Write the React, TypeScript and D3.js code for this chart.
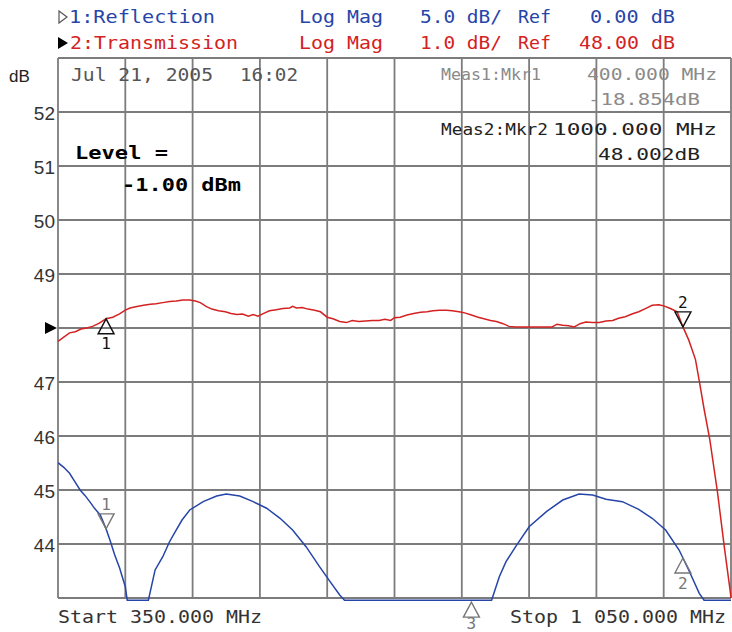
import React from 'react';
import * as d3 from 'd3';

// grid / ticks
const xGrid = [350, 420, 490, 560, 630, 700, 770, 840, 910, 980, 1050];
const yGrid = [43, 44, 45, 46, 47, 48, 49, 50, 51, 52, 53];
const yTickLabels = [52, 51, 50, 49, 47, 46, 45, 44];
const refLevel = 48;

// trace 2: Transmission (dB, 1 dB/div, ref 48)
const transFreq = [
  350, 356, 362, 368, 374, 380, 386, 393, 400, 407, 414, 420, 425, 432, 439, 446, 452, 459, 466, 473,
  480, 487, 493, 498, 504, 510, 517, 524, 530, 536, 542, 548, 553, 558, 564, 570, 577, 584, 591, 594,
  598, 604, 610, 617, 623, 630, 636, 643, 650, 656, 663, 670, 677, 684, 690, 696, 700, 706, 713, 720,
  727, 734, 740, 747, 754, 760, 767, 773, 780, 787, 793, 800, 806, 813, 819, 826, 840, 855, 864, 869,
  875, 881, 887, 893, 899, 906, 913, 920, 927, 933, 940, 947, 954, 961, 968, 975, 980, 987, 994, 1000,
  1006, 1013, 1017, 1022, 1028, 1036, 1043, 1049, 1050,
];
const transDb = [
  47.75, 47.83, 47.91, 47.93, 47.98, 48.0, 48.03, 48.09, 48.17, 48.2, 48.26, 48.33, 48.37, 48.4, 48.42, 48.44, 48.45, 48.47, 48.49, 48.5,
  48.52, 48.52, 48.5, 48.47, 48.4, 48.35, 48.32, 48.3, 48.27, 48.25, 48.26, 48.22, 48.25, 48.22, 48.27, 48.32, 48.34, 48.36, 48.37, 48.4,
  48.37, 48.38, 48.35, 48.33, 48.3, 48.2, 48.17, 48.12, 48.1, 48.14, 48.12, 48.13, 48.14, 48.14, 48.16, 48.14, 48.19, 48.2, 48.24, 48.27,
  48.29, 48.3, 48.32, 48.33, 48.33, 48.32, 48.3, 48.28, 48.24, 48.2, 48.17, 48.14, 48.12, 48.08, 48.03, 48.02, 48.02, 48.02, 48.02, 48.07,
  48.05, 48.04, 48.02, 48.08, 48.11, 48.1, 48.1, 48.13, 48.14, 48.18, 48.21, 48.26, 48.3, 48.36, 48.42, 48.43, 48.41, 48.36, 48.3, 48.02,
  47.78, 47.42, 47.02, 46.5, 45.93, 44.95, 43.95, 43.15, 43.0,
];

// trace 1: Reflection (dB, 5 dB/div, ref 0)
const reflFreq = [
  350, 356, 362, 368, 373, 378, 383, 388, 394, 400, 404, 409, 414, 420, 422, 444, 451, 459, 466, 472,
  479, 487, 501, 515, 525, 539, 553, 567, 581, 594, 608, 622, 633, 643, 648, 801, 809, 816, 826, 840,
  858, 875, 892, 906, 920, 937, 954, 968, 982, 996, 1006, 1017, 1022, 1050,
];
const reflDb = [
  -12.47, -12.9, -13.45, -14.3, -15.0, -15.5, -16.08, -16.7, -17.31, -18.6, -19.63, -21.02, -22.2, -23.95, -25.2, -25.2, -22.4, -21.18, -19.79, -18.86,
  -17.78, -16.85, -16.08, -15.56, -15.37, -15.56, -16.08, -16.69, -17.62, -18.7, -20.25, -22.1, -23.49, -24.72, -25.2, -25.2, -23.03, -21.64, -20.25, -18.4,
  -17.0, -15.93, -15.37, -15.46, -15.86, -16.08, -16.79, -17.62, -18.7, -20.56, -22.41, -24.57, -25.2, -25.2,
];

// markers: [label, frequency]
const transMarkers: [string, number][] = [['1', 400], ['2', 1000]];
const reflMarkers: [string, number][] = [['1', 400], ['2', 1000], ['3', 780]];

const W = 732;
const H = 632;
const L = 58, R = 731, T = 58, B = 598;
const MONO = '"DejaVu Sans Mono", monospace';
const SANS = '"Liberation Sans", Arial, sans-serif';
const BLUE = '#2645a8';
const RED = '#d42222';

const x = d3.scaleLinear().domain([350, 1050]).range([L, R]);
const yTrans = d3.scaleLinear().domain([43, 53]).range([B, T]);
const yRefl = d3.scaleLinear().domain([-25, 25]).range([B, T]);
const transAt = d3.scaleLinear().domain(transFreq).range(transDb);
const reflAt = d3.scaleLinear().domain(reflFreq).range(reflDb);

const transLine = d3.line<number>().x((_, i) => x(transFreq[i])).y(d => yTrans(d));
const reflLine = d3.line<number>().x((_, i) => x(reflFreq[i])).y(d => yRefl(d));

// text with a forced span
const Txt = ({ x0, x1, y, s, fill = '#222', size = 17, family = MONO, weight = 'normal' }: any) => (
  <text x={x0} y={y} fill={fill} fontSize={size} fontFamily={family} fontWeight={weight}
    dominantBaseline="central" textLength={x1 - x0} lengthAdjust="spacingAndGlyphs">{s}</text>
);

const Marker = ({ px, py, label, up, color, labelGap = 25 }: any) => {
  const w = 8, h = 15;
  const d = up
    ? `M${px},${py} L${px - w},${py + h} L${px + w},${py + h} Z`
    : `M${px},${py} L${px - w},${py - h} L${px + w},${py - h} Z`;
  return (
    <g>
      <path d={d} fill="none" stroke={color} strokeWidth={1.4} />
      <text x={px} y={up ? py + labelGap : py - 24} fill={color} fontSize={16} fontFamily={MONO}
        textAnchor="middle" dominantBaseline="central">{label}</text>
    </g>
  );
};

export default function App() {
  return (
    <svg width={W} height={H} style={{ position: 'absolute', left: 0, top: 0, background: '#fff' }}>
      <defs>
        <clipPath id="plot">
          <rect x={L} y={T - 1} width={R - L + 1} height={B - T + 4} />
        </clipPath>
      </defs>

      {/* header */}
      <path d="M59,11 L67,17 L59,23 Z" fill="none" stroke="#555" strokeWidth={1.2} />
      <Txt x0={69} x1={215} y={17} s="1:Reflection" fill={BLUE} />
      <Txt x0={299} x1={383} y={17} s="Log Mag" fill={BLUE} />
      <Txt x0={420} x1={502} y={17} s="5.0 dB/" fill={BLUE} />
      <Txt x0={518} x1={551} y={17} s="Ref" fill={BLUE} />
      <Txt x0={590} x1={675} y={17} s="0.00 dB" fill={BLUE} />
      <path d="M58,37 L68,43 L58,49 Z" fill="#000" />
      <Txt x0={70} x1={238} y={43} s="2:Transmission" fill={RED} />
      <Txt x0={299} x1={383} y={43} s="Log Mag" fill={RED} />
      <Txt x0={420} x1={502} y={43} s="1.0 dB/" fill={RED} />
      <Txt x0={518} x1={551} y={43} s="Ref" fill={RED} />
      <Txt x0={579} x1={675} y={43} s="48.00 dB" fill={RED} />

      {/* grid */}
      <g stroke="#7c7c7c" strokeWidth={1.8}>
        {xGrid.map(f => <line key={f} x1={x(f)} x2={x(f)} y1={T} y2={B} />)}
        {yGrid.map(v => <line key={v} x1={L} x2={R} y1={yTrans(v)} y2={yTrans(v)} />)}
      </g>

      {/* y axis */}
      <text x={9} y={76} fontSize={17} fontFamily={SANS} fill="#222" dominantBaseline="central">dB</text>
      {yTickLabels.map(v => (
        <text key={v} x={55} y={yTrans(v) + 1} fontSize={19} fontFamily={SANS} fill="#333"
          textAnchor="end" dominantBaseline="central">{v}</text>
      ))}
      <path d={`M45,${yTrans(refLevel) - 6} L57,${yTrans(refLevel)} L45,${yTrans(refLevel) + 6} Z`} fill="#000" />

      {/* traces */}
      <g clipPath="url(#plot)" fill="none">
        <path d={reflLine(reflDb) || ''} stroke={BLUE} strokeWidth={1.5} />
        <path d={transLine(transDb) || ''} stroke={RED} strokeWidth={1.5} />
      </g>

      {/* markers */}
      {transMarkers.map(([n, f]) => (
        <Marker key={'t' + n} px={x(f)} py={yTrans(transAt(f))} label={n} up={n === '1'} color="#111" />
      ))}
      {reflMarkers.map(([n, f]) => (
        <Marker key={'r' + n} px={x(f)} py={yRefl(reflAt(f)) + (n === '3' ? 2 : 0)} label={n}
          up={n !== '1'} color="#777" labelGap={n === '3' ? 21 : 25} />
      ))}

      {/* annotations */}
      <Txt x0={71} x1={213} y={75} s="Jul 21, 2005" fill="#555" />
      <Txt x0={240} x1={298} y={75} s="16:02" fill="#555" />
      <Txt x0={75} x1={168} y={152} s="Level =" fill="#000" size={18} weight="bold" />
      <Txt x0={122} x1={241} y={184} s="-1.00 dBm" fill="#000" size={18} weight="bold" />

      <Txt x0={441} x1={541} y={74} s="Meas1:Mkr1" fill="#8a8a8a" size={16} />
      <Txt x0={587} x1={717} y={74} s="400.000 MHz" fill="#8a8a8a" size={16} />
      <Txt x0={588} x1={700} y={99} s="-18.854dB" fill="#8a8a8a" size={16} />
      <Txt x0={441} x1={548} y={129} s="Meas2:Mkr2" fill="#222" size={16} />
      <Txt x0={553} x1={717} y={129} s="1000.000 MHz" fill="#222" size={16} />
      <Txt x0={598} x1={700} y={154} s="48.002dB" fill="#222" size={16} />

      {/* bottom */}
      <Txt x0={58} x1={262} y={617} s="Start 350.000 MHz" fill="#333" />
      <Txt x0={510} x1={726} y={617} s="Stop 1 050.000 MHz" fill="#333" />
    </svg>
  );
}
